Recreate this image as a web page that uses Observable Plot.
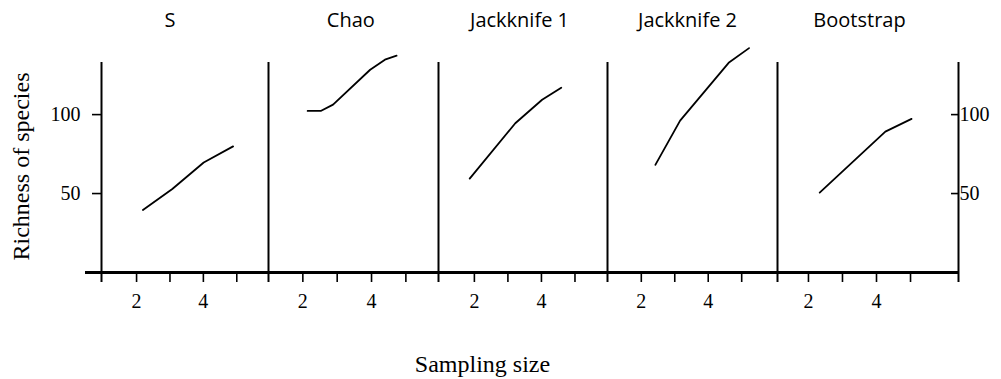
<!DOCTYPE html>
<html><head><meta charset="utf-8">
<script src="https://cdn.jsdelivr.net/npm/d3@7"></script>
<script src="https://cdn.jsdelivr.net/npm/@observablehq/plot@0.6"></script>
<style>
body{margin:0;background:#fff;}
#chart{position:relative;width:1001px;height:379px;overflow:hidden;}
#chart svg{position:absolute;top:0;}
</style></head><body><div id="chart"></div>
<script>
// ---- data ----
const panelTitles = ["S", "Chao", "Jackknife 1", "Jackknife 2", "Bootstrap"];
const sX     = [2.19, 3.07, 4.01, 4.89];
const sY     = [39.6, 52.9, 69.7, 79.9];
const chaoX  = [2.14, 2.52, 2.88, 3.96, 4.39, 4.73];
const chaoY  = [102.3, 102.3, 106.3, 128.4, 134.8, 137.3];
const jack1X = [1.86, 3.22, 4.02, 4.59];
const jack1Y = [59.5, 94.5, 109.4, 117.0];
const jack2X = [2.42, 3.16, 4.61, 5.22];
const jack2Y = [68.2, 96.2, 132.8, 142.1];
const bootX  = [2.33, 4.26, 5.03];
const bootY  = [50.6, 89.2, 97.3];
const xTicks = [2, 3, 4, 5];
const xTickLabels = ["2", "", "4", ""];
const yTicks = [50, 100];
const yLabel = "Richness of species";
const xLabel = "Sampling size";

const seriesX = [sX, chaoX, jack1X, jack2X, bootX];
const seriesY = [sY, chaoY, jack1Y, jack2Y, bootY];

// ---- layout ----
const layout = [
  {left: 0,   ml: 101, w: 167, mr: 0,  dom: [0.95, 5.95], tdx: -15},
  {left: 268, ml: 0,   w: 170, mr: 0,  dom: [1.00, 5.95], tdx: -2.7},
  {left: 438, ml: 0,   w: 169, mr: 0,  dom: [0.93, 5.97], tdx: -3.5},
  {left: 607, ml: 0,   w: 170, mr: 0,  dom: [0.99, 6.07], tdx: -5},
  {left: 777, ml: 0,   w: 181, mr: 43, dom: [1.09, 6.41], tdx: -8.5}
];

const chart = document.getElementById("chart");
const serif = "'Liberation Serif', 'Times New Roman', serif";
const sans = "'Open Sans', 'Noto Sans', sans-serif";

layout.forEach((L, i) => {
  const data = seriesX[i].map((x, k) => ({x, y: seriesY[i][k]}));
  const marks = [
    Plot.ruleY([0], {strokeWidth: 3, insetLeft: i === 0 ? -16 : 0}),
    Plot.ruleX([L.dom[0]], {strokeWidth: 2, insetBottom: -10}),
    Plot.axisX({ticks: xTicks, tickFormat: d => xTickLabels[xTicks.indexOf(d)], tickSize: 10, tickPadding: 11, strokeWidth: 1.6, label: null, fontSize: 20, fontFamily: serif}),
    Plot.line(data, {x: "x", y: "y", strokeWidth: 1.8}),
    Plot.text([panelTitles[i]], {frameAnchor: "top", dy: -41.5, dx: L.tdx, fontFamily: sans, fontSize: 20, lineAnchor: "middle"})
  ];
  if (i === 0) {
    marks.push(Plot.axisY({anchor: "left", ticks: yTicks, tickSize: 9, tickPadding: 12, strokeWidth: 1.6, label: null, fontSize: 20, fontFamily: serif}));
    marks.push(Plot.text([yLabel], {frameAnchor: "left", textAnchor: "middle", lineAnchor: "middle", rotate: -90, dx: -80, dy: -1, fontSize: 24, fontFamily: serif}));
  }
  if (i === 2) {
    marks.push(Plot.text([xLabel], {frameAnchor: "bottom", dy: 92, dx: -40.5, fontSize: 24, fontFamily: serif, lineAnchor: "middle"}));
  }
  if (i === 4) {
    marks.push(Plot.ruleX([L.dom[1]], {strokeWidth: 2, insetBottom: -10}));
    marks.push(Plot.axisY({anchor: "right", ticks: yTicks, tickSize: -8, tickPadding: 9, strokeWidth: 1.6, label: null, fontSize: 20, fontFamily: serif}));
  }
  const svg = Plot.plot({
    width: L.ml + L.w + L.mr,
    height: 379,
    marginLeft: L.ml,
    marginRight: L.mr,
    marginTop: 62,
    marginBottom: 107,
    style: {background: "transparent", overflow: "visible", fontFamily: serif, fontSize: "20px", color: "black"},
    x: {domain: L.dom, label: null},
    y: {domain: [0, 133], label: null, axis: (i === 0 || i === 4) ? undefined : null},
    marks
  });
  svg.style.left = L.left + "px";
  chart.appendChild(svg);
});
</script></body></html>
